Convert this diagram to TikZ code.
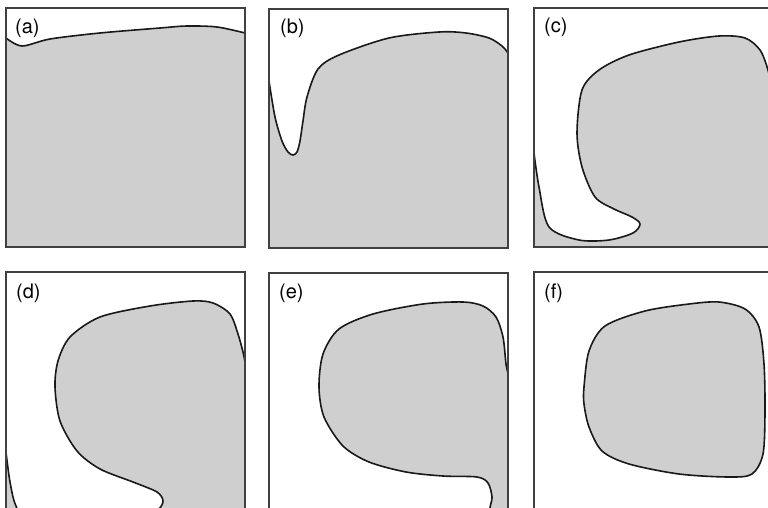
\documentclass[tikz,border=0pt]{standalone}
\usepackage{fontspec}
\setsansfont{TeX Gyre Heros}
\newcommand{\panelSize}{239}
\newcommand{\labelSize}{20}

\begin{document}
\begin{tikzpicture}[x=1pt, y=-1pt]
  \tikzset{region/.style={fill=gray!38},
    boundary/.style={draw=black!90, line width=1.6pt, line join=round},
    panel frame/.style={draw=black!75, line width=1.4pt},
    panel label/.style={anchor=west, inner sep=0pt, font=\sffamily\fontsize{\labelSize}{22}\selectfont}}
  \useasboundingbox (0,0) rectangle (768,508);
  \clip (0,0) rectangle (768,508);
  % (a)
  \begin{scope}[shift={(6,8)}]
    \begin{scope}
      \clip (0,0) rectangle (\panelSize,\panelSize);
      \fill[region] (0,\panelSize) -- (0,30) -- plot[smooth] coordinates {(0,30) (16,38) (44,31) (94,25) (154,20) (181,18) (211,19) (239,25)} -- (\panelSize,\panelSize) -- cycle;
      \draw[boundary] plot[smooth] coordinates {(0,30) (16,38) (44,31) (94,25) (154,20) (181,18) (211,19) (239,25)};
    \end{scope}
    \draw[panel frame] (0,0) rectangle (\panelSize,\panelSize);
    \node[panel label] (label-a) at (9,20) {(a)};
  \end{scope}
  % (b)
  \begin{scope}[shift={(269,9)}]
    \begin{scope}
      \clip (0,0) rectangle (\panelSize,\panelSize);
      \fill[region] (0,\panelSize) -- (0,72) -- plot[smooth] coordinates {(0,72) (6,108) (13,132) (19,143) (24,146) (28,143) (31,132) (34,112) (38,88) (49,60) (70,46) (120,29) (170,23) (197,24) (220,29) (233,37) (239,44)} -- (\panelSize,\panelSize) -- cycle;
      \draw[boundary] plot[smooth] coordinates {(0,72) (6,108) (13,132) (19,143) (24,146) (28,143) (31,132) (34,112) (38,88) (49,60) (70,46) (120,29) (170,23) (197,24) (220,29) (233,37) (239,44)};
    \end{scope}
    \draw[panel frame] (0,0) rectangle (\panelSize,\panelSize);
    \node[panel label] (label-b) at (11,19) {(b)};
  \end{scope}
  % (c)
  \begin{scope}[shift={(534,8)}]
    \begin{scope}
      \clip (0,0) rectangle (\panelSize,\panelSize);
      \fill[region] (0,\panelSize) -- (0,145) -- plot[smooth] coordinates {(0,145) (5,179) (15,219) (45,232) (75,232) (99,225) (106,216) (98,209) (80,201) (61,189) (48,159) (43,125) (48,82) (65,62) (95,47) (145,34) (185,28) (211,30) (226,42) (234,62) (239,85)} -- (\panelSize,\panelSize) -- cycle;
      \draw[boundary] plot[smooth] coordinates {(0,145) (5,179) (15,219) (45,232) (75,232) (99,225) (106,216) (98,209) (80,201) (61,189) (48,159) (43,125) (48,82) (65,62) (95,47) (145,34) (185,28) (211,30) (226,42) (234,62) (239,85)};
    \end{scope}
    \draw[panel frame] (0,0) rectangle (\panelSize,\panelSize);
    \node[panel label] (label-c) at (10,19) {(c)};
  \end{scope}
  % (d)
  \begin{scope}[shift={(6,272)}]
    \begin{scope}
      \clip (0,0) rectangle (\panelSize,\panelSize);
      \fill[region] (0,270) -- (0,180) -- plot[smooth] coordinates {(0,180) (4,210) (10,234) (25,255) (80,262) (135,250) (152,238) (157,229) (151,220) (127,210) (94,197) (71,179) (54,149) (49,115) (52,89) (64,65) (94,45) (144,34) (187,29) (207,31) (224,42) (232,62) (237,80) (239,90)} -- (\panelSize,270) -- cycle;
      \draw[boundary] plot[smooth] coordinates {(0,180) (4,210) (10,234) (25,255) (80,262) (135,250) (152,238) (157,229) (151,220) (127,210) (94,197) (71,179) (54,149) (49,115) (52,89) (64,65) (94,45) (144,34) (187,29) (207,31) (224,42) (232,62) (237,80) (239,90)};
    \end{scope}
    \draw[panel frame] (0,0) rectangle (\panelSize,\panelSize);
    \node[panel label] (label-d) at (10,21) {(d)};
  \end{scope}
  % (e)
  \begin{scope}[shift={(269,273)}]
    \begin{scope}
      \clip (0,0) rectangle (\panelSize,\panelSize);
      \fill[region] (221,260) -- plot[smooth] coordinates {(221,250) (221,235) (223,224) (219,210) (208,204) (174,203) (137,199) (100,189) (74,173) (55,144) (50,114) (54,81) (70,56) (104,41) (154,31) (194,29) (214,33) (227,44) (234,64) (237,91) (239,100)} -- (\panelSize,260) -- cycle;
      \draw[boundary] plot[smooth] coordinates {(221,250) (221,235) (223,224) (219,210) (208,204) (174,203) (137,199) (100,189) (74,173) (55,144) (50,114) (54,81) (70,56) (104,41) (154,31) (194,29) (214,33) (227,44) (234,64) (237,91) (239,100)};
    \end{scope}
    \draw[panel frame] (0,0) rectangle (\panelSize,\panelSize);
    \node[panel label] (label-e) at (10,20) {(e)};
  \end{scope}
  % (f)
  \begin{scope}[shift={(534,272)}]
    \begin{scope}
      \clip (0,0) rectangle (\panelSize,\panelSize);
      \filldraw[region, boundary] plot[smooth cycle] coordinates {(50,115) (55,79) (71,54) (111,39) (155,32) (185,30) (211,37) (225,55) (230,92) (231,140) (229,182) (218,202) (195,205) (145,202) (95,192) (68,179) (55,155) (50,132)};
    \end{scope}
    \draw[panel frame] (0,0) rectangle (\panelSize,\panelSize);
    \node[panel label] (label-f) at (10,21) {(f)};
  \end{scope}
\end{tikzpicture}
\end{document}
